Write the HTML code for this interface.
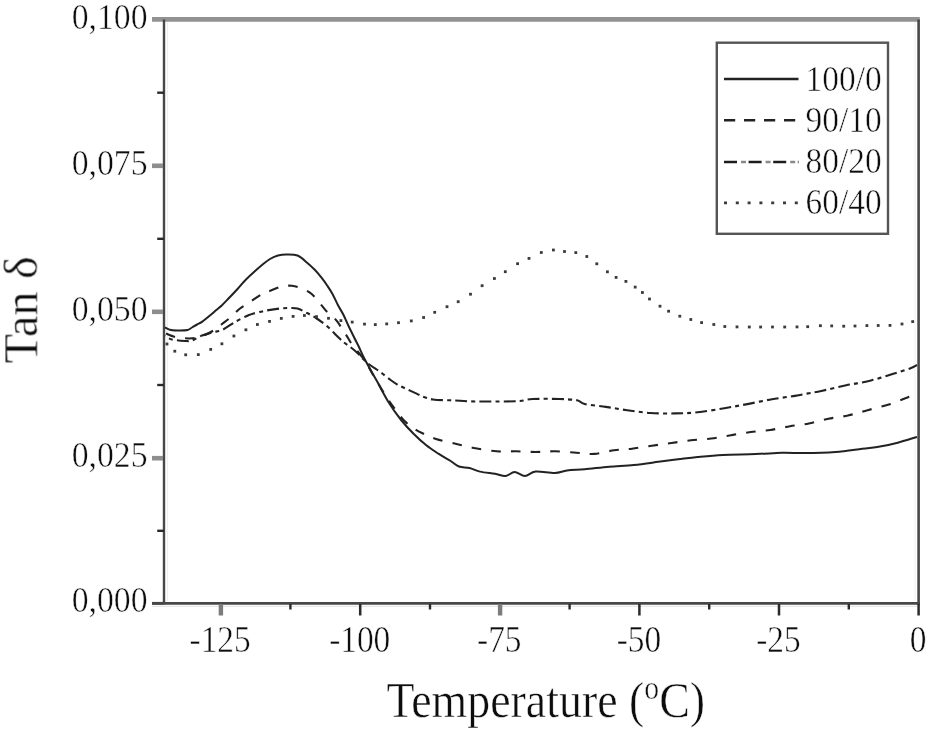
<!DOCTYPE html><html><head><meta charset="utf-8"><style>html,body{margin:0;padding:0;background:#fff;}svg{display:block;}</style></head><body>
<svg width="931" height="732" viewBox="0 0 931 732" style="font-family:&quot;Liberation Serif&quot;,serif">
<defs><filter id="b" x="-5%" y="-5%" width="110%" height="110%"><feGaussianBlur stdDeviation="0.45"/></filter><filter id="t" x="-5%" y="-5%" width="110%" height="110%"><feGaussianBlur stdDeviation="0.4"/></filter></defs>
<g filter="url(#b)">
<line x1="152" y1="19.4" x2="919.8" y2="19.4" stroke="#929292" stroke-width="4.8"/>
<line x1="164" y1="19.6" x2="164" y2="604.5" stroke="#474747" stroke-width="2.4"/>
<line x1="167.4" y1="22" x2="167.4" y2="601" stroke="#f0f0f0" stroke-width="1.2"/>
<line x1="915" y1="22" x2="915" y2="601" stroke="#f3f3f3" stroke-width="1.2"/>
<line x1="918.6" y1="19.6" x2="918.6" y2="604.5" stroke="#474747" stroke-width="2.6"/>
<line x1="152" y1="603.3" x2="919.8" y2="603.3" stroke="#474747" stroke-width="2.8"/>
<line x1="152" y1="606.3" x2="917" y2="606.3" stroke="#e6e6e6" stroke-width="1.2"/>
<line x1="152" y1="458.2" x2="163" y2="458.2" stroke="#8e8e8e" stroke-width="4.6"/>
<line x1="152" y1="311.8" x2="163" y2="311.8" stroke="#8e8e8e" stroke-width="4.6"/>
<line x1="152" y1="165.8" x2="163" y2="165.8" stroke="#8e8e8e" stroke-width="4.6"/>
<line x1="157.2" y1="530.8" x2="164" y2="530.8" stroke="#2a2a2a" stroke-width="2.4"/>
<line x1="157.2" y1="385.0" x2="164" y2="385.0" stroke="#2a2a2a" stroke-width="2.4"/>
<line x1="157.2" y1="238.8" x2="164" y2="238.8" stroke="#2a2a2a" stroke-width="2.4"/>
<line x1="157.2" y1="92.7" x2="164" y2="92.7" stroke="#2a2a2a" stroke-width="2.4"/>
<line x1="152" y1="603.3" x2="163" y2="603.3" stroke="#474747" stroke-width="2.8"/>
<line x1="220.9" y1="604" x2="220.9" y2="615.5" stroke="#7c7c7c" stroke-width="4.4"/>
<line x1="290.4" y1="604" x2="290.4" y2="609.5" stroke="#2a2a2a" stroke-width="2.4"/>
<line x1="360.2" y1="604" x2="360.2" y2="615.5" stroke="#2a2a2a" stroke-width="2.5"/>
<line x1="430.0" y1="604" x2="430.0" y2="609.5" stroke="#2a2a2a" stroke-width="2.4"/>
<line x1="500.1" y1="604" x2="500.1" y2="615.5" stroke="#7c7c7c" stroke-width="4.4"/>
<line x1="569.6" y1="604" x2="569.6" y2="609.5" stroke="#2a2a2a" stroke-width="2.4"/>
<line x1="639.4" y1="604" x2="639.4" y2="615.5" stroke="#2a2a2a" stroke-width="2.5"/>
<line x1="709.2" y1="604" x2="709.2" y2="609.5" stroke="#2a2a2a" stroke-width="2.4"/>
<line x1="779.0" y1="604" x2="779.0" y2="615.5" stroke="#2a2a2a" stroke-width="2.5"/>
<line x1="848.8" y1="604" x2="848.8" y2="609.5" stroke="#2a2a2a" stroke-width="2.4"/>
<line x1="918.6" y1="604" x2="918.6" y2="615.5" stroke="#2a2a2a" stroke-width="2.5"/>
<g fill="none" stroke-linejoin="round">
<path d="M165.0,327.3 C166.0,327.8 168.5,329.5 171.0,330.0 C173.5,330.5 177.2,330.5 180.0,330.5 C182.8,330.5 185.5,330.5 187.5,330.0 C189.5,329.5 190.4,328.4 192.0,327.5 C193.6,326.6 195.3,325.4 197.0,324.5 C198.7,323.6 200.0,323.3 202.0,321.9 C204.0,320.5 206.7,318.2 209.0,316.3 C211.3,314.4 213.8,312.2 216.0,310.3 C218.2,308.4 219.8,307.2 222.0,305.2 C224.2,303.1 226.3,300.8 229.0,298.0 C231.7,295.2 235.2,291.6 238.0,288.5 C240.8,285.4 243.3,282.2 246.0,279.5 C248.7,276.8 251.3,274.4 254.0,272.0 C256.7,269.6 259.3,267.2 262.0,265.0 C264.7,262.8 267.3,260.6 270.0,259.0 C272.7,257.4 275.3,256.2 278.0,255.5 C280.7,254.8 282.8,254.5 286.0,254.5 C289.2,254.5 293.9,254.1 297.5,255.5 C301.1,256.9 304.5,260.6 307.4,263.0 C310.3,265.4 312.6,267.6 315.0,270.0 C317.4,272.4 319.5,275.1 321.5,277.7 C323.5,280.2 325.2,282.6 327.0,285.3 C328.8,288.0 330.7,290.7 332.5,294.0 C334.3,297.3 336.1,301.5 337.9,305.0 C339.7,308.5 341.6,311.2 343.4,314.8 C345.2,318.4 347.1,323.0 348.9,326.8 C350.7,330.6 352.7,334.5 354.3,337.8 C355.9,341.1 357.0,343.0 358.7,346.5 C360.4,350.0 361.6,353.2 364.6,359.0 C367.6,364.8 372.8,373.7 376.9,381.1 C381.0,388.5 385.1,396.7 389.2,403.3 C393.3,409.9 397.4,415.4 401.5,420.5 C405.6,425.6 409.7,429.9 413.8,434.0 C417.9,438.1 421.9,441.7 426.0,445.0 C430.1,448.3 434.3,451.0 438.4,453.7 C442.5,456.4 447.2,458.9 450.6,461.0 C454.0,463.1 455.9,465.3 459.0,466.5 C462.1,467.7 466.0,467.1 469.5,468.0 C473.0,468.9 475.8,470.6 480.0,471.6 C484.2,472.6 490.7,473.1 495.0,473.8 C499.3,474.5 502.3,476.3 505.6,476.0 C508.9,475.7 511.4,472.0 514.6,472.0 C517.8,472.0 521.5,476.1 525.0,476.0 C528.5,475.9 530.6,472.0 535.6,471.5 C540.6,471.0 549.8,473.2 555.0,473.0 C560.2,472.8 562.1,471.1 567.0,470.5 C571.9,469.9 577.6,469.8 584.6,469.2 C591.6,468.6 601.0,467.4 609.2,466.7 C617.4,466.0 625.6,465.8 633.8,465.0 C642.0,464.2 651.0,462.8 658.4,461.8 C665.8,460.9 671.5,460.1 678.0,459.3 C684.5,458.5 690.2,457.6 697.7,456.9 C705.2,456.2 713.1,455.4 722.8,454.9 C732.4,454.4 745.8,454.5 755.6,454.1 C765.4,453.8 773.6,453.0 781.8,452.8 C790.0,452.6 795.8,453.1 804.8,453.0 C813.8,452.9 825.9,452.6 835.5,451.9 C845.1,451.2 854.8,449.6 862.2,448.7 C869.6,447.8 874.1,447.6 880.0,446.6 C885.9,445.6 891.5,444.3 897.7,442.7 C903.9,441.1 913.8,437.9 917.0,437.0" stroke="#222" stroke-width="2"/>
<path d="M165.0,333.0 C166.7,333.7 171.7,336.1 175.0,337.0 C178.3,337.9 181.7,338.1 185.0,338.3 C188.3,338.5 191.7,338.6 195.0,338.0 C198.3,337.4 201.7,336.4 205.0,335.0 C208.3,333.6 212.2,331.3 215.0,329.5 C217.8,327.7 219.3,326.1 222.0,324.0 C224.7,321.9 228.0,319.6 231.0,317.0 C234.0,314.4 236.8,311.0 240.0,308.5 C243.2,306.0 246.3,304.4 250.0,302.0 C253.7,299.6 258.5,295.9 262.0,294.0 C265.5,292.1 267.7,291.8 271.0,290.5 C274.3,289.2 278.5,287.3 282.0,286.5 C285.5,285.7 288.7,285.4 292.0,285.8 C295.3,286.2 298.7,287.2 302.0,288.6 C305.3,290.0 308.6,291.4 311.7,294.0 C314.8,296.6 317.7,300.8 320.4,304.0 C323.1,307.2 325.4,310.3 328.0,313.0 C330.6,315.7 333.8,317.7 336.0,320.0 C338.2,322.3 339.5,324.8 341.0,327.0 C342.5,329.2 343.3,330.3 345.0,333.0 C346.7,335.7 349.2,340.2 351.0,343.0 C352.8,345.8 354.3,347.4 356.0,349.5 C357.7,351.6 359.3,353.4 361.0,355.5 C362.7,357.6 364.2,359.1 366.0,362.0 C367.8,364.9 369.7,368.9 372.0,373.0 C374.3,377.1 377.3,382.1 380.0,386.5 C382.7,390.9 385.3,395.5 388.0,399.5 C390.7,403.5 393.3,407.0 396.0,410.5 C398.7,414.0 401.2,417.7 404.0,420.5 C406.8,423.3 409.5,425.4 412.5,427.5 C415.5,429.6 418.1,431.1 422.0,433.0 C425.9,434.9 430.4,437.2 436.0,439.0 C441.6,440.8 449.0,442.2 455.6,443.8 C462.2,445.4 468.7,447.1 475.5,448.3 C482.3,449.6 489.8,450.8 496.5,451.3 C503.2,451.8 509.5,451.2 516.0,451.3 C522.5,451.4 529.1,452.0 535.6,452.0 C542.1,452.0 548.2,451.2 555.0,451.3 C561.8,451.4 569.8,452.4 576.4,452.8 C583.0,453.2 588.1,454.3 594.4,453.9 C600.7,453.5 607.7,451.2 614.0,450.3 C620.3,449.4 625.7,449.5 632.0,448.7 C638.3,447.9 645.2,446.6 651.8,445.7 C658.4,444.8 665.0,443.9 671.5,443.0 C678.0,442.1 684.4,441.1 691.0,440.3 C697.6,439.6 704.6,439.4 711.3,438.5 C718.0,437.6 724.4,436.3 731.0,435.2 C737.6,434.1 744.2,432.9 750.7,432.0 C757.2,431.1 763.8,431.0 770.3,430.0 C776.8,429.0 783.6,427.3 790.0,426.2 C796.4,425.1 802.5,424.8 808.9,423.5 C815.3,422.2 821.9,420.0 828.4,418.7 C834.9,417.4 841.5,416.9 848.0,415.5 C854.5,414.1 860.7,412.0 867.5,410.2 C874.3,408.4 881.8,406.7 888.8,404.5 C895.8,402.3 904.5,398.6 909.2,396.8 C913.9,395.1 915.7,394.5 917.0,394.0" stroke="#222" stroke-width="2.1" stroke-dasharray="9.6 10.14" stroke-dashoffset="-1.2"/>
<path d="M165.0,336.0 C166.2,336.6 168.7,338.7 172.0,339.5 C175.3,340.3 181.7,340.8 185.0,341.0 C188.3,341.2 189.2,341.4 192.0,340.5 C194.8,339.6 198.7,336.8 202.0,335.5 C205.3,334.2 208.6,333.5 212.0,332.5 C215.4,331.5 218.9,331.4 222.7,329.7 C226.5,327.9 230.8,324.4 235.0,322.0 C239.2,319.6 244.9,316.9 248.0,315.5 C251.1,314.1 250.5,314.3 253.5,313.5 C256.5,312.7 261.6,311.4 266.0,310.6 C270.4,309.8 276.0,308.9 280.0,308.5 C284.0,308.1 287.1,308.0 290.0,308.0 C292.9,308.0 295.0,307.8 297.5,308.5 C300.0,309.2 301.9,310.4 305.0,312.0 C308.1,313.6 312.2,315.5 316.0,318.0 C319.8,320.5 324.5,324.0 328.0,327.0 C331.5,330.0 334.3,333.4 337.0,336.0 C339.7,338.6 341.7,340.6 344.0,342.5 C346.3,344.4 348.7,345.7 351.0,347.5 C353.3,349.3 356.2,351.8 358.0,353.5 C359.8,355.2 360.3,356.3 362.0,358.0 C363.7,359.7 365.1,361.2 368.0,363.5 C370.9,365.8 375.8,368.8 379.6,371.5 C383.4,374.2 387.7,377.9 390.6,380.0 C393.5,382.1 394.8,383.0 397.0,384.3 C399.2,385.6 400.7,386.2 404.0,387.8 C407.3,389.4 413.6,392.2 416.6,393.6 C419.6,395.0 419.3,395.3 422.0,396.3 C424.7,397.3 428.3,398.8 433.0,399.5 C437.7,400.2 445.5,400.1 450.0,400.3 C454.5,400.5 455.8,400.6 460.0,400.8 C464.2,401.0 468.3,401.4 475.0,401.5 C481.7,401.6 492.5,401.6 500.0,401.5 C507.5,401.4 514.6,401.4 520.0,401.0 C525.4,400.6 526.0,399.3 532.6,399.0 C539.2,398.7 552.2,398.8 559.6,399.0 C567.0,399.2 572.8,399.5 577.0,400.3 C581.2,401.1 579.8,402.9 584.6,404.0 C589.4,405.1 598.8,405.9 605.9,406.9 C613.0,407.9 619.8,409.2 627.2,410.2 C634.6,411.2 642.3,412.5 650.2,413.0 C658.1,413.5 666.9,413.5 674.8,413.4 C682.7,413.3 689.4,413.2 697.7,412.3 C706.0,411.4 716.1,409.6 724.4,408.2 C732.7,406.8 739.5,405.6 747.4,404.1 C755.3,402.6 764.1,400.6 772.0,399.2 C779.9,397.8 789.0,396.9 795.0,395.9 C801.0,394.9 803.6,394.2 808.0,393.4 C812.4,392.6 814.9,392.4 821.3,391.0 C827.7,389.6 837.9,387.1 846.2,385.3 C854.5,383.6 862.7,382.6 871.0,380.5 C879.3,378.4 889.4,374.9 895.9,372.9 C902.4,370.9 906.5,369.7 910.0,368.4 C913.5,367.1 915.8,365.6 917.0,365.0" stroke="#222" stroke-width="2.1" stroke-dasharray="11.8 4.2 4 4.2" stroke-dashoffset="-12.9"/>
<rect x="165.6" y="342.6" width="2.8" height="2.8" fill="#3a3a3a" stroke="none"/>
<rect x="173.4" y="349.8" width="2.8" height="2.8" fill="#3a3a3a" stroke="none"/>
<rect x="184.3" y="353.4" width="2.8" height="2.8" fill="#3a3a3a" stroke="none"/>
<rect x="196.9" y="353.2" width="2.8" height="2.8" fill="#3a3a3a" stroke="none"/>
<rect x="209.3" y="348.0" width="2.8" height="2.8" fill="#3a3a3a" stroke="none"/>
<rect x="220.5" y="342.4" width="2.8" height="2.8" fill="#3a3a3a" stroke="none"/>
<rect x="232.5" y="334.6" width="2.8" height="2.8" fill="#3a3a3a" stroke="none"/>
<rect x="244.5" y="328.4" width="2.8" height="2.8" fill="#3a3a3a" stroke="none"/>
<rect x="256.0" y="323.1" width="2.8" height="2.8" fill="#3a3a3a" stroke="none"/>
<rect x="268.1" y="320.0" width="2.8" height="2.8" fill="#3a3a3a" stroke="none"/>
<rect x="279.9" y="317.0" width="2.8" height="2.8" fill="#3a3a3a" stroke="none"/>
<rect x="291.7" y="315.0" width="2.8" height="2.8" fill="#3a3a3a" stroke="none"/>
<rect x="303.0" y="314.1" width="2.8" height="2.8" fill="#3a3a3a" stroke="none"/>
<rect x="315.1" y="315.2" width="2.8" height="2.8" fill="#3a3a3a" stroke="none"/>
<rect x="327.1" y="316.9" width="2.8" height="2.8" fill="#3a3a3a" stroke="none"/>
<rect x="339.5" y="319.2" width="2.8" height="2.8" fill="#3a3a3a" stroke="none"/>
<rect x="350.8" y="320.7" width="2.8" height="2.8" fill="#3a3a3a" stroke="none"/>
<rect x="363.1" y="322.7" width="2.8" height="2.8" fill="#3a3a3a" stroke="none"/>
<rect x="373.9" y="323.2" width="2.8" height="2.8" fill="#3a3a3a" stroke="none"/>
<rect x="385.3" y="322.5" width="2.8" height="2.8" fill="#3a3a3a" stroke="none"/>
<rect x="397.1" y="321.3" width="2.8" height="2.8" fill="#3a3a3a" stroke="none"/>
<rect x="409.9" y="319.5" width="2.8" height="2.8" fill="#3a3a3a" stroke="none"/>
<rect x="422.2" y="316.1" width="2.8" height="2.8" fill="#3a3a3a" stroke="none"/>
<rect x="433.3" y="310.9" width="2.8" height="2.8" fill="#3a3a3a" stroke="none"/>
<rect x="445.6" y="305.3" width="2.8" height="2.8" fill="#3a3a3a" stroke="none"/>
<rect x="456.8" y="300.3" width="2.8" height="2.8" fill="#3a3a3a" stroke="none"/>
<rect x="469.1" y="292.8" width="2.8" height="2.8" fill="#3a3a3a" stroke="none"/>
<rect x="480.7" y="284.3" width="2.8" height="2.8" fill="#3a3a3a" stroke="none"/>
<rect x="493.0" y="277.1" width="2.8" height="2.8" fill="#3a3a3a" stroke="none"/>
<rect x="503.9" y="270.3" width="2.8" height="2.8" fill="#3a3a3a" stroke="none"/>
<rect x="516.2" y="262.3" width="2.8" height="2.8" fill="#3a3a3a" stroke="none"/>
<rect x="527.6" y="257.0" width="2.8" height="2.8" fill="#3a3a3a" stroke="none"/>
<rect x="539.9" y="251.1" width="2.8" height="2.8" fill="#3a3a3a" stroke="none"/>
<rect x="552.0" y="248.6" width="2.8" height="2.8" fill="#3a3a3a" stroke="none"/>
<rect x="563.1" y="250.1" width="2.8" height="2.8" fill="#3a3a3a" stroke="none"/>
<rect x="574.4" y="251.2" width="2.8" height="2.8" fill="#3a3a3a" stroke="none"/>
<rect x="585.4" y="255.1" width="2.8" height="2.8" fill="#3a3a3a" stroke="none"/>
<rect x="595.4" y="262.4" width="2.8" height="2.8" fill="#3a3a3a" stroke="none"/>
<rect x="606.0" y="270.4" width="2.8" height="2.8" fill="#3a3a3a" stroke="none"/>
<rect x="614.7" y="276.0" width="2.8" height="2.8" fill="#3a3a3a" stroke="none"/>
<rect x="624.5" y="280.0" width="2.8" height="2.8" fill="#3a3a3a" stroke="none"/>
<rect x="633.8" y="285.7" width="2.8" height="2.8" fill="#3a3a3a" stroke="none"/>
<rect x="641.0" y="291.1" width="2.8" height="2.8" fill="#3a3a3a" stroke="none"/>
<rect x="648.1" y="297.6" width="2.8" height="2.8" fill="#3a3a3a" stroke="none"/>
<rect x="658.6" y="304.8" width="2.8" height="2.8" fill="#3a3a3a" stroke="none"/>
<rect x="667.2" y="309.8" width="2.8" height="2.8" fill="#3a3a3a" stroke="none"/>
<rect x="678.4" y="314.8" width="2.8" height="2.8" fill="#3a3a3a" stroke="none"/>
<rect x="689.4" y="318.1" width="2.8" height="2.8" fill="#3a3a3a" stroke="none"/>
<rect x="700.2" y="321.2" width="2.8" height="2.8" fill="#3a3a3a" stroke="none"/>
<rect x="712.4" y="323.1" width="2.8" height="2.8" fill="#3a3a3a" stroke="none"/>
<rect x="723.4" y="325.1" width="2.8" height="2.8" fill="#3a3a3a" stroke="none"/>
<rect x="735.6" y="325.5" width="2.8" height="2.8" fill="#3a3a3a" stroke="none"/>
<rect x="747.9" y="325.6" width="2.8" height="2.8" fill="#3a3a3a" stroke="none"/>
<rect x="759.2" y="325.6" width="2.8" height="2.8" fill="#3a3a3a" stroke="none"/>
<rect x="771.1" y="325.6" width="2.8" height="2.8" fill="#3a3a3a" stroke="none"/>
<rect x="783.3" y="325.6" width="2.8" height="2.8" fill="#3a3a3a" stroke="none"/>
<rect x="795.6" y="325.5" width="2.8" height="2.8" fill="#3a3a3a" stroke="none"/>
<rect x="806.3" y="325.3" width="2.8" height="2.8" fill="#3a3a3a" stroke="none"/>
<rect x="819.0" y="324.3" width="2.8" height="2.8" fill="#3a3a3a" stroke="none"/>
<rect x="830.3" y="324.5" width="2.8" height="2.8" fill="#3a3a3a" stroke="none"/>
<rect x="842.3" y="324.8" width="2.8" height="2.8" fill="#3a3a3a" stroke="none"/>
<rect x="853.6" y="324.6" width="2.8" height="2.8" fill="#3a3a3a" stroke="none"/>
<rect x="865.5" y="324.2" width="2.8" height="2.8" fill="#3a3a3a" stroke="none"/>
<rect x="876.8" y="324.1" width="2.8" height="2.8" fill="#3a3a3a" stroke="none"/>
<rect x="888.6" y="324.0" width="2.8" height="2.8" fill="#3a3a3a" stroke="none"/>
<rect x="900.6" y="322.6" width="2.8" height="2.8" fill="#3a3a3a" stroke="none"/>
<rect x="911.3" y="320.2" width="2.8" height="2.8" fill="#3a3a3a" stroke="none"/>
</g>
<rect x="716.8" y="42.7" width="171.2" height="191.1" fill="none" stroke="#555" stroke-width="2.4"/>
<line x1="724" y1="79" x2="798.5" y2="79" stroke="#222" stroke-width="2.5"/>
<line x1="724" y1="120.2" x2="798.5" y2="120.2" stroke="#222" stroke-width="2.5" stroke-dasharray="11.2 8.8"/>
<line x1="724" y1="161.9" x2="798.5" y2="161.9" stroke="#1e1e1e" stroke-width="2.5" stroke-dasharray="13 11.6"/>
<line x1="741" y1="161.9" x2="798.5" y2="161.9" stroke="#8a8a8a" stroke-width="2.5" stroke-dasharray="5 19.6"/>
<line x1="724" y1="202.9" x2="798.5" y2="202.9" stroke="#3a3a3a" stroke-width="2.8" stroke-dasharray="3 8.8"/>
</g>
<g filter="url(#t)" fill="#111" stroke="#fff" stroke-width="0.5">
<text transform="translate(147.6,612.4) scale(0.925,1)" font-size="36.5" text-anchor="end" >0,000</text>
<text transform="translate(147.6,467.3) scale(0.925,1)" font-size="36.5" text-anchor="end" >0,025</text>
<text transform="translate(147.6,320.9) scale(0.925,1)" font-size="36.5" text-anchor="end" >0,050</text>
<text transform="translate(147.6,174.9) scale(0.925,1)" font-size="36.5" text-anchor="end" >0,075</text>
<text transform="translate(147.6,28.6) scale(0.925,1)" font-size="36.5" text-anchor="end" >0,100</text>
<text transform="translate(220.1,651.5) scale(0.890,1)" font-size="37.5" text-anchor="middle" >-125</text>
<text transform="translate(359.7,651.5) scale(0.890,1)" font-size="37.5" text-anchor="middle" >-100</text>
<text transform="translate(499.3,651.5) scale(0.890,1)" font-size="37.5" text-anchor="middle" >-75</text>
<text transform="translate(638.9,651.5) scale(0.890,1)" font-size="37.5" text-anchor="middle" >-50</text>
<text transform="translate(778.5,651.5) scale(0.890,1)" font-size="37.5" text-anchor="middle" >-25</text>
<text transform="translate(918.1,651.5) scale(0.890,1)" font-size="37.5" text-anchor="middle" >0</text>
<text transform="translate(386.4,716.5) scale(0.900,1)" font-size="51.0" text-anchor="start" >Temperature (<tspan font-size="33" dy="-18">o</tspan><tspan dy="18">C)</tspan></text>
<text transform="translate(37.3,363.4) rotate(-90)" font-size="48.5">Tan δ</text>
<text transform="translate(881.6,90.5) scale(0.915,1)" font-size="36.5" text-anchor="end" >100/0</text>
<text transform="translate(881.6,131.7) scale(0.915,1)" font-size="36.5" text-anchor="end" >90/10</text>
<text transform="translate(881.6,173.4) scale(0.915,1)" font-size="36.5" text-anchor="end" >80/20</text>
<text transform="translate(881.6,214.4) scale(0.915,1)" font-size="36.5" text-anchor="end" >60/40</text>
</g>
</svg></body></html>
